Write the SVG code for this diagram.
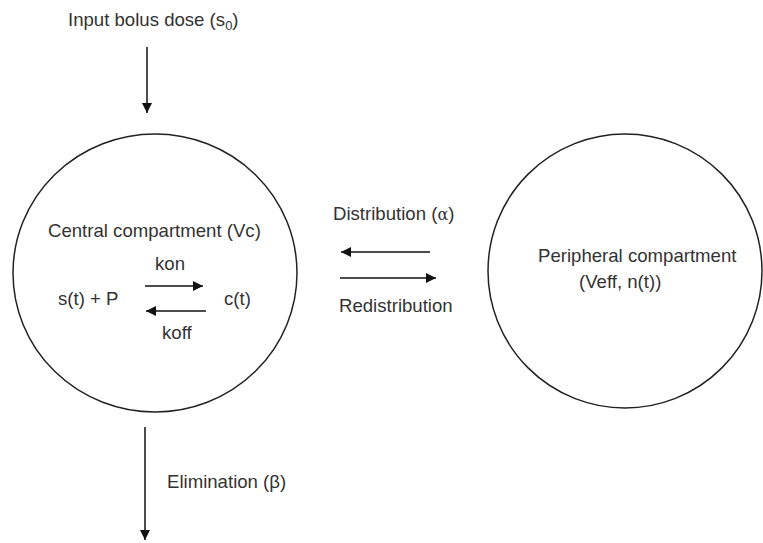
<svg xmlns="http://www.w3.org/2000/svg" width="763" height="543" viewBox="0 0 763 543">
<style>
text{font-family:"Liberation Sans",Arial,sans-serif;font-size:18.6px;fill:#333}
.c{fill:none;stroke:#222;stroke-width:1.5}
.a{stroke:#111;stroke-width:1.5;fill:none;marker-end:url(#h)}
</style>
<defs>
<marker id="h" viewBox="0 0 10 10" refX="10" refY="5" markerWidth="10" markerHeight="10" markerUnits="userSpaceOnUse" orient="auto">
<path d="M0,0 L10,5 L0,10 z" fill="#111"/>
</marker>
</defs>
<rect width="763" height="543" fill="#fff"/>
<g id="input">
<text x="68" y="26">Input bolus dose  (s<tspan font-size="13" dy="4">0</tspan><tspan dy="-4">)</tspan></text>
</g>
<g id="central">
<ellipse class="c" cx="155" cy="273" rx="142" ry="139"/>
<text x="48" y="237">Central compartment (Vc)</text>
<text x="155" y="270">kon</text>
<text x="58" y="305">s(t) + P</text>
<text x="224" y="305">c(t)</text>
<text x="162" y="339">koff</text>
</g>
<g id="peripheral">
<ellipse class="c" cx="625" cy="271" rx="137" ry="137"/>
<text x="538" y="262">Peripheral compartment</text>
<text x="579" y="288">(Veff, n(t))</text>
</g>
<g id="labels">
<text x="333" y="220">Distribution (<tspan font-family="'DejaVu Serif',serif" font-size="16">α</tspan>)</text>
<text x="339" y="312">Redistribution</text>
<text x="167" y="488">Elimination (β)</text>
</g>
<g id="connectors">
<line class="a" x1="147" y1="47" x2="147" y2="113"/>
<line class="a" x1="145" y1="286" x2="203" y2="286"/>
<line class="a" x1="206" y1="311" x2="146" y2="311"/>
<line class="a" x1="430" y1="252" x2="341" y2="252"/>
<line class="a" x1="340" y1="278" x2="436" y2="278"/>
<line class="a" x1="145" y1="427" x2="145" y2="540"/>
</g>
</svg>
